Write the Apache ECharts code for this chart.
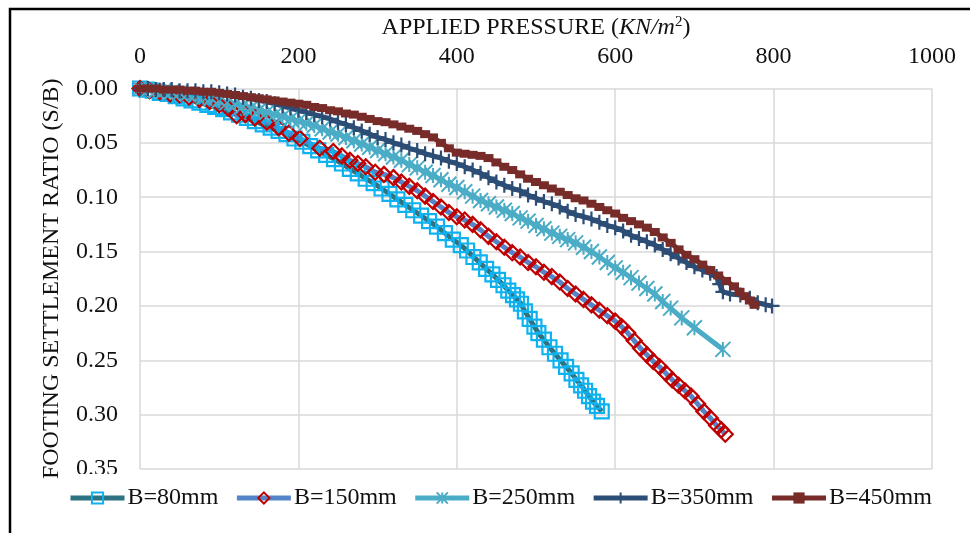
<!DOCTYPE html>
<html>
<head>
<meta charset="utf-8">
<script src="https://cdn.jsdelivr.net/npm/echarts@6/dist/echarts.min.js"></script>
<style>
  html, body { margin: 0; padding: 0; background: #fff; }
  #chart { width: 970px; height: 533px; }
</style>
</head>
<body>
<div id="chart"></div>
<script>
// axis ticks
const xTicks = { min: 0, max: 1000, interval: 200 };
const yTicks = { min: 0, max: 0.35, interval: 0.05 };

const seriesNames = ["B=80mm", "B=150mm", "B=250mm", "B=350mm", "B=450mm"];

// B=80mm
const p80 = [0, 8, 16, 25, 35, 45, 55, 65, 75, 85, 95, 105, 115, 125, 135, 145, 155, 165, 175, 185,
  195, 205, 215, 225, 235, 245, 255, 265, 275, 285, 295, 305, 315, 325, 335, 345, 355, 365, 375, 385,
  395, 405, 413, 421, 429, 437, 445, 452, 459, 465, 471, 476, 481, 486, 492, 498, 503, 510, 517, 524,
  531, 538, 545, 551, 557, 562, 567, 572, 577, 583];
const s80 = [0, 0.001, 0.002, 0.004, 0.005, 0.007, 0.009, 0.011, 0.013, 0.015, 0.017, 0.019, 0.022, 0.024, 0.027, 0.030, 0.033, 0.036, 0.039, 0.042,
  0.046, 0.049, 0.053, 0.057, 0.061, 0.065, 0.069, 0.074, 0.078, 0.083, 0.087, 0.092, 0.097, 0.102, 0.107, 0.112, 0.117, 0.122, 0.127, 0.133,
  0.139, 0.144, 0.149, 0.155, 0.160, 0.166, 0.171, 0.176, 0.181, 0.186, 0.190, 0.194, 0.198, 0.205, 0.212, 0.219, 0.225, 0.231, 0.238, 0.244,
  0.250, 0.256, 0.262, 0.268, 0.273, 0.278, 0.283, 0.288, 0.292, 0.297];

// B=150mm
const p150 = [0, 12, 25, 38, 50, 62, 75, 88, 100, 111, 122, 133, 145, 160, 175, 188, 202, 227, 244, 255,
  265, 275, 285, 297, 308, 320, 330, 340, 350, 360, 370, 380, 390, 400, 410, 420, 430, 440, 450, 460,
  470, 480, 490, 500, 510, 520, 530, 540, 550, 560, 570, 580, 590, 600, 608, 616, 624, 632, 640, 648,
  656, 664, 672, 680, 688, 696, 704, 712, 720, 728, 734, 739];
const s150 = [0, 0.002, 0.003, 0.005, 0.006, 0.008, 0.010, 0.012, 0.015, 0.018, 0.025, 0.024, 0.027, 0.031, 0.036, 0.041, 0.046, 0.055, 0.058, 0.062,
  0.066, 0.069, 0.072, 0.077, 0.079, 0.082, 0.086, 0.090, 0.094, 0.099, 0.104, 0.109, 0.114, 0.118, 0.121, 0.125, 0.130, 0.136, 0.141, 0.146,
  0.151, 0.155, 0.160, 0.164, 0.169, 0.173, 0.178, 0.184, 0.189, 0.194, 0.199, 0.204, 0.209, 0.214, 0.219, 0.225, 0.232, 0.239, 0.245, 0.251,
  0.256, 0.262, 0.268, 0.273, 0.278, 0.283, 0.290, 0.297, 0.303, 0.310, 0.314, 0.318];

// B=250mm
const p250 = [0, 10, 20, 30, 40, 50, 60, 70, 80, 90, 100, 110, 120, 130, 140, 150, 160, 170, 180, 190,
  200, 210, 220, 230, 240, 250, 260, 270, 280, 290, 300, 310, 320, 330, 340, 350, 360, 370, 380, 390,
  400, 410, 420, 430, 440, 450, 460, 470, 480, 490, 500, 510, 520, 530, 540, 550, 560, 570, 580, 590,
  600, 610, 620, 630, 640, 650, 660, 670, 684, 700, 736];
const s250 = [0, 0.001, 0.002, 0.002, 0.003, 0.004, 0.005, 0.006, 0.008, 0.009, 0.011, 0.013, 0.014, 0.016, 0.018, 0.020, 0.022, 0.024, 0.026, 0.028,
  0.030, 0.032, 0.034, 0.037, 0.040, 0.042, 0.045, 0.048, 0.051, 0.054, 0.057, 0.060, 0.063, 0.066, 0.070, 0.073, 0.077, 0.080, 0.084, 0.088,
  0.091, 0.095, 0.099, 0.103, 0.106, 0.109, 0.112, 0.115, 0.119, 0.122, 0.126, 0.129, 0.133, 0.136, 0.139, 0.142, 0.146, 0.150, 0.155, 0.160,
  0.165, 0.169, 0.174, 0.179, 0.184, 0.189, 0.196, 0.202, 0.211, 0.220, 0.240];

// B=350mm
const p350 = [0, 10, 20, 30, 40, 50, 60, 70, 80, 90, 100, 110, 120, 130, 140, 150, 160, 170, 180, 190,
  200, 210, 220, 230, 240, 250, 260, 270, 280, 290, 300, 310, 320, 330, 340, 350, 360, 370, 380, 390,
  400, 410, 420, 430, 440, 450, 460, 470, 480, 490, 500, 510, 520, 530, 540, 550, 560, 570, 580, 590,
  600, 610, 620, 630, 640, 650, 660, 670, 680, 690, 700, 710, 720, 728, 732, 736, 745, 758, 770, 780,
  790, 798];
const s350 = [0, 0, 0.001, 0.001, 0.001, 0.002, 0.002, 0.002, 0.003, 0.003, 0.004, 0.005, 0.006, 0.008, 0.009, 0.011, 0.012, 0.014, 0.016, 0.018,
  0.020, 0.022, 0.024, 0.026, 0.028, 0.031, 0.033, 0.036, 0.039, 0.042, 0.045, 0.047, 0.050, 0.052, 0.055, 0.057, 0.060, 0.062, 0.064, 0.067,
  0.069, 0.072, 0.075, 0.078, 0.082, 0.086, 0.089, 0.092, 0.094, 0.098, 0.101, 0.104, 0.106, 0.109, 0.113, 0.116, 0.118, 0.120, 0.123, 0.126,
  0.128, 0.131, 0.135, 0.138, 0.141, 0.144, 0.148, 0.152, 0.156, 0.160, 0.164, 0.167, 0.170, 0.173, 0.180, 0.187, 0.189, 0.190, 0.193, 0.197,
  0.199, 0.200];

// B=450mm
const p450 = [0, 10, 20, 30, 40, 50, 60, 70, 80, 90, 100, 110, 120, 130, 140, 150, 160, 170, 180, 190,
  200, 210, 220, 230, 240, 250, 260, 270, 280, 290, 300, 310, 320, 330, 340, 350, 360, 370, 380, 390,
  400, 410, 420, 430, 440, 450, 460, 470, 480, 490, 500, 510, 520, 530, 540, 550, 560, 570, 580, 590,
  600, 610, 620, 630, 640, 650, 660, 670, 680, 690, 700, 710, 720, 730, 740, 750, 757, 764, 770, 776];
const s450 = [0, 0, 0, 0.001, 0.001, 0.001, 0.002, 0.002, 0.003, 0.003, 0.004, 0.005, 0.006, 0.007, 0.008, 0.009, 0.010, 0.011, 0.012, 0.013,
  0.014, 0.015, 0.017, 0.018, 0.020, 0.021, 0.023, 0.024, 0.026, 0.028, 0.030, 0.031, 0.033, 0.035, 0.037, 0.039, 0.042, 0.045, 0.050, 0.055,
  0.059, 0.060, 0.061, 0.062, 0.064, 0.068, 0.072, 0.075, 0.079, 0.083, 0.086, 0.089, 0.092, 0.095, 0.098, 0.101, 0.103, 0.106, 0.109, 0.112,
  0.115, 0.119, 0.122, 0.125, 0.128, 0.132, 0.137, 0.142, 0.148, 0.153, 0.157, 0.162, 0.167, 0.172, 0.177, 0.182, 0.187, 0.191, 0.195, 0.199];

const FONT = "Liberation Serif";
const TXT = "#111";

function pairs(xs, ys) {
  return xs.map((x, i) => [x, ys[i]]);
}

function makeSeries(name, xs, ys, lineColor, symbol, symbolSize, item) {
  return {
    name: name,
    type: "line",
    data: pairs(xs, ys),
    showAllSymbol: true,
    symbol: symbol,
    symbolSize: symbolSize,
    lineStyle: { color: lineColor, width: 5 },
    itemStyle: item,
    emphasis: { disabled: true },
  };
}

const chart = echarts.init(document.getElementById("chart"), null, { renderer: "canvas" });

const option = {
  animation: false,
  backgroundColor: "#fff",
  grid: { left: 140, right: 38, top: 88.5, bottom: 64 },
  graphic: [
    {
      type: "rect",
      shape: { x: 10, y: 9, width: 1000, height: 600 },
      style: { fill: "none", stroke: "#000", lineWidth: 2.5 },
      silent: true,
      z: 100,
    },
  ],
  xAxis: {
    type: "value",
    position: "top",
    min: xTicks.min,
    max: xTicks.max,
    interval: xTicks.interval,
    name: "{a|APPLIED PRESSURE (}{i|KN/m}{s|2}{a|)}",
    nameLocation: "middle",
    nameGap: 42,
    nameTextStyle: {
      rich: {
        a: { fontFamily: FONT, fontSize: 24, color: TXT },
        i: { fontFamily: FONT, fontSize: 24, fontStyle: "italic", color: TXT },
        s: { fontFamily: FONT, fontSize: 15, color: TXT, padding: [0, 0, 12, 0] },
      },
    },
    axisLine: { show: false },
    axisTick: { show: false },
    axisLabel: {
      fontFamily: FONT,
      fontSize: 24,
      color: TXT,
      margin: 20,
      formatter: (v) => String(v),
    },
    splitLine: { lineStyle: { color: "#d9d9d9", width: 1.5 } },
  },
  yAxis: {
    type: "value",
    inverse: true,
    min: yTicks.min,
    max: yTicks.max,
    interval: yTicks.interval,
    name: "FOOTING SETTLEMENT RATIO (S/B)",
    nameLocation: "middle",
    nameRotate: 90,
    nameGap: 76,
    nameTextStyle: { fontFamily: FONT, fontSize: 24, color: TXT },
    axisLine: { show: false },
    axisTick: { show: false },
    axisLabel: {
      fontFamily: FONT,
      fontSize: 24,
      color: TXT,
      margin: 22,
      formatter: (v) => v.toFixed(2),
    },
    splitLine: { lineStyle: { color: "#d9d9d9", width: 1.5 } },
  },
  legend: {
    data: seriesNames,
    left: 60,
    top: 474,
    padding: [12, 8, 8, 8],
    backgroundColor: "#fff",
    itemWidth: 54,
    itemHeight: 14,
    itemGap: 16,
    lineStyle: { width: 5 },
    textStyle: { fontFamily: FONT, fontSize: 24, color: TXT, padding: [0, 0, 0, -2] },
  },
  series: [
    makeSeries(seriesNames[0], p80, s80, "#2d7382", "rect", 14,
      { color: "rgba(0,0,0,0)", borderColor: "#0fb2ee", borderWidth: 2.2 }),
    makeSeries(seriesNames[1], p150, s150, "#5585c8", "diamond", 15,
      { color: "rgba(0,0,0,0)", borderColor: "#c00000", borderWidth: 2.2 }),
    makeSeries(seriesNames[2], p250, s250, "#4bacc6",
      "path://M0 0 L10 10 M10 0 L0 10 M5 0 L5 10", 15,
      { color: "rgba(0,0,0,0)", borderColor: "#4bacc6", borderWidth: 2 }),
    makeSeries(seriesNames[3], p350, s350, "#2c4d75",
      "path://M0 5 L10 5 M5 0 L5 10", 15,
      { color: "rgba(0,0,0,0)", borderColor: "#2c4d75", borderWidth: 2.2 }),
    makeSeries(seriesNames[4], p450, s450, "#772c2a", "rect", [10, 8],
      { color: "#772c2a" }),
  ],
};

chart.setOption(option);
</script>
</body>
</html>
